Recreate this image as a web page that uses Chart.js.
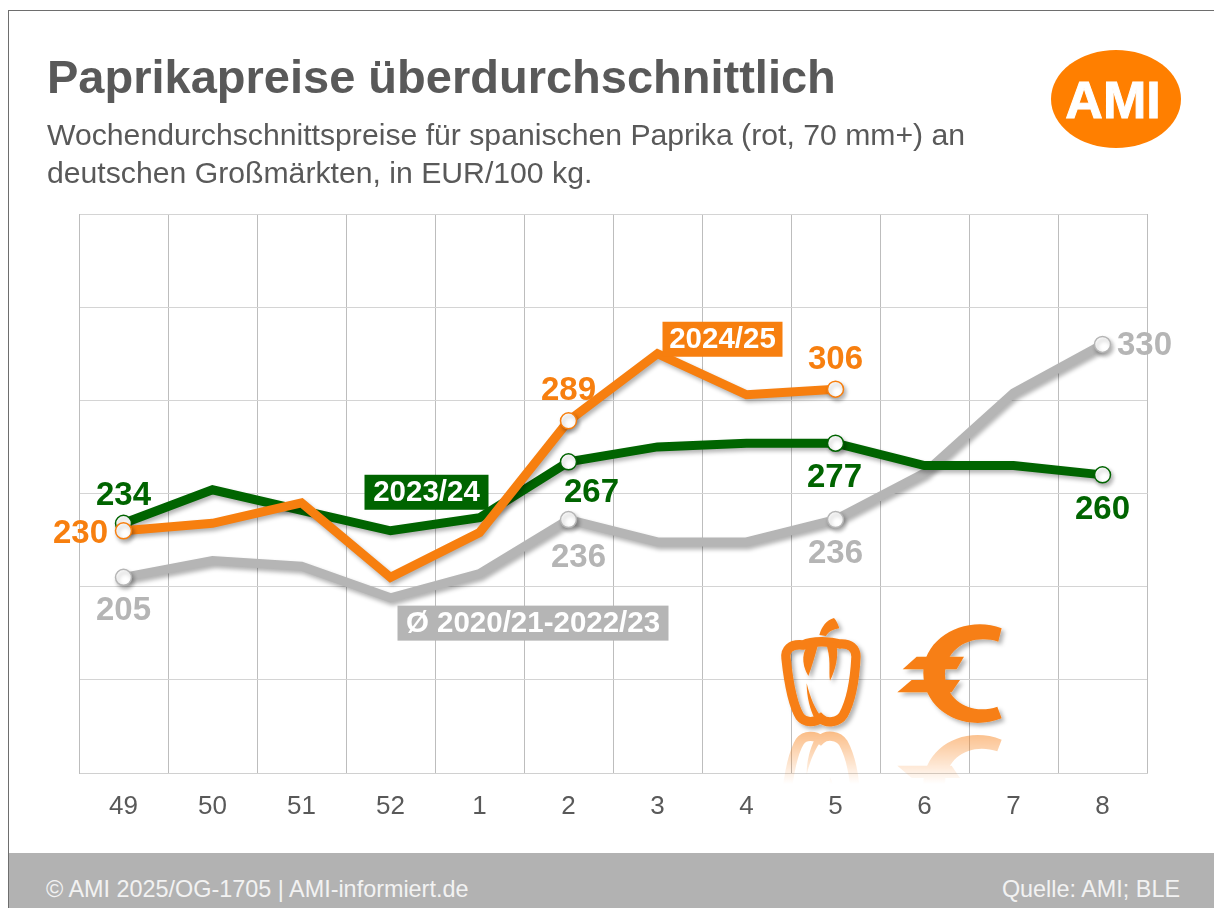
<!DOCTYPE html>
<html lang="de">
<head>
<meta charset="utf-8">
<title>Paprikapreise</title>
<script src="https://cdn.jsdelivr.net/npm/chart.js@4/dist/chart.umd.min.js"></script>
<style>
  html, body { margin: 0; padding: 0; background: #fff; }
  body { position: relative; width: 1214px; height: 908px; overflow: hidden; font-family: "Liberation Sans", Arial, sans-serif; color: #595959; }
  #profile { position: absolute; left: 0; top: 0; }
  .frame-top { position: absolute; left: 9px; right: 0; top: 10px; height: 1px; background: #6e6e6e; }
  .frame-left { position: absolute; left: 8px; top: 10px; width: 1px; bottom: 0; background: #6e6e6e; }
  h1 { position: absolute; left: 47px; top: 50px; margin: 0; font-size: 47px; line-height: 54px; font-weight: bold; white-space: nowrap; }
  .sub { position: absolute; left: 47px; top: 116px; font-size: 30.2px; line-height: 38px; white-space: nowrap; }
  .footer { position: absolute; left: 9px; right: 0; top: 853px; height: 55px; background: #b2b2b2; color: #f2f2f2; font-size: 23.4px; }
  .footer span { position: absolute; top: 23px; line-height: 26px; }
  .footer .left { left: 37px; }
  .footer .right { right: 34px; }
  svg.overlay { position: absolute; left: 0; top: 0; pointer-events: none; }
</style>
</head>
<body>
<canvas id="profile" width="1214" height="908"></canvas>
<div class="frame-top"></div>
<div class="frame-left"></div>
<h1>Paprikapreise überdurchschnittlich</h1>
<div class="sub">Wochendurchschnittspreise für spanischen Paprika (rot, 70 mm+) an<br>deutschen Großmärkten, in EUR/100 kg.</div>
<div class="footer">
  <span class="left">© AMI 2025/OG-1705 | AMI-informiert.de</span>
  <span class="right">Quelle: AMI; BLE</span>
</div>

<svg class="overlay" width="1214" height="908">
  <defs>
    <filter id="soft" x="-20%" y="-20%" width="150%" height="150%">
      <feDropShadow dx="3" dy="3" stdDeviation="2" flood-color="#000" flood-opacity="0.3"/>
    </filter>
    <linearGradient id="fade" x1="0" y1="0" x2="0" y2="1">
      <stop offset="0" stop-color="#fff" stop-opacity="0.55"/>
      <stop offset="1" stop-color="#fff" stop-opacity="0"/>
    </linearGradient>
    <mask id="fadeMask" maskUnits="userSpaceOnUse" x="760" y="728" width="270" height="60">
      <rect x="760" y="728" width="270" height="56" fill="url(#fade)"/>
    </mask>
    <g id="icons" transform="translate(760 600) scale(0.3333)">
      <path d="M130 135C90 130 75 150 78 175C85 240 95 310 120 350C135 370 165 368 182 355C200 372 235 368 250 345C275 300 285 230 288 170C288 145 270 130 240 132C215 125 160 120 130 135Z" fill="none" stroke="#f77f15" stroke-width="28"/>
      <path d="M150 130C126 150 122 190 145 228C155 200 165 170 176 125Z" fill="#f77f15"/>
      <path d="M195 125C216 170 205 215 210 242C226 210 238 170 228 128Z" fill="#f77f15"/>
      <path d="M140 250C140 290 150 330 165 358L188 356C165 330 150 290 140 250Z" fill="#f77f15"/>
      <path d="M178 105C185 80 200 60 222 54C230 62 235 75 238 85C220 88 205 95 198 108Z" fill="#f77f15"/>
      <path d="M725 85C620 45 490 110 490 220C490 330 610 400 725 355L712 320C640 345 560 310 555 225C555 140 640 100 715 125Z" fill="#f77f15"/>
      <path d="M428 208L470 170H612L590 208Z" fill="#f77f15"/>
      <path d="M412 277L455 240H600L575 277Z" fill="#f77f15"/>
    </g>
  </defs>
  <use href="#icons" filter="url(#soft)"/>
  <g mask="url(#fadeMask)">
    <use href="#icons" transform="translate(0 1458) scale(1 -1)"/>
  </g>
  <ellipse cx="1116" cy="99" rx="65" ry="49" fill="#ff7f00"/>
  <text x="1113" y="118" text-anchor="middle" font-family="Liberation Sans" font-weight="bold" font-size="52" fill="#fff" stroke="#fff" stroke-width="1">AMI</text>
</svg>

<script>
const weeks = ['49', '50', '51', '52', '1', '2', '3', '4', '5', '6', '7', '8'];
const avgPrices = [205, 214, 211, 194, 207, 236, 224, 224, 236, 261, 304, 330];
const prices2324 = [234, 252, 241, 230, 237, 267, 275, 277, 277, 265, 265, 260];
const prices2425 = [230, 234, 245, 205, 229, 289, 325, 303, 306, null, null, null];
const yTicks = [100, 150, 200, 250, 300, 350, 400];

const orange = '#f77f0f';
const green = '#006400';
const grey = '#b5b5b5';

// which points get a white marker and a value label, and where the label sits
const avgLabels = [[0, 0, 34], [5, 10, 38], [8, 0, 34], [11, 42, 1]];
const labels2324 = [[0, 0, -27], [5, 23, 31], [8, -1, 35], [11, 0, 35]];
const labels2425 = [[0, -43, 3], [5, 0, -30], [8, 0, -29]];

function marked(list) {
    return function (ctx) {
        return list.some(l => l[0] === ctx.dataIndex) ? 8 : 0;
    };
}

function series(name, data, color, list, order) {
    return {
        label: name,
        data: data,
        order: order,
        borderColor: color,
        borderWidth: 9,
        borderJoinStyle: 'miter',
        tension: 0,
        fill: false,
        pointBackgroundColor: '#fff',
        pointBorderColor: color,
        pointBorderWidth: 1.5,
        pointRadius: marked(list),
        pointHoverRadius: marked(list)
    };
}

const tags = [
    { text: 'Ø 2020/21-2022/23', dataset: 0, index: 4, dx: -82, dy: 32, w: 271, color: grey },
    { text: '2023/24', dataset: 1, index: 3, dx: -26, dy: -56, w: 124, color: green },
    { text: '2024/25', dataset: 2, index: 6, dx: 5, dy: -32, w: 120, color: orange }
];

const allLabels = [avgLabels, labels2324, labels2425];
const labelColors = [grey, green, orange];

const shadowPlugin = {
    id: 'lineShadow',
    beforeDatasetDraw(chart) {
        const ctx = chart.ctx;
        ctx.save();
        ctx.shadowColor = 'rgba(0,0,0,0.3)';
        ctx.shadowBlur = 4;
        ctx.shadowOffsetX = 2;
        ctx.shadowOffsetY = 3;
    },
    afterDatasetDraw(chart) {
        chart.ctx.restore();
    }
};

const labelPlugin = {
    id: 'priceLabels',
    afterDatasetsDraw(chart) {
        const ctx = chart.ctx;
        ctx.save();
        ctx.textAlign = 'center';
        ctx.textBaseline = 'middle';

        tags.forEach(t => {
            const pt = chart.getDatasetMeta(t.dataset).data[t.index];
            ctx.fillStyle = t.color;
            ctx.fillRect(pt.x + t.dx, pt.y + t.dy, t.w, 35);
            ctx.fillStyle = '#fff';
            ctx.font = 'bold 29.5px "Liberation Sans"';
            ctx.fillText(t.text, pt.x + t.dx + t.w / 2, pt.y + t.dy + 18);
        });

        ctx.font = 'bold 33px "Liberation Sans"';
        allLabels.forEach((list, i) => {
            const meta = chart.getDatasetMeta(i);
            const values = chart.data.datasets[i].data;
            list.forEach(l => {
                const pt = meta.data[l[0]];
                ctx.fillStyle = labelColors[i];
                ctx.fillText(String(values[l[0]]), pt.x + l[1], pt.y + l[2]);
            });
        });
        ctx.restore();
    }
};

new Chart(document.getElementById('profile'), {
    type: 'line',
    data: {
        labels: weeks,
        datasets: [
            series('Ø 2020/21-2022/23', avgPrices, grey, avgLabels, 2),
            series('2023/24', prices2324, green, labels2324, 1),
            series('2024/25', prices2425, orange, labels2425, 0)
        ]
    },
    options: {
        responsive: false,
        animation: false,
        layout: { padding: { top: 214, right: 67, left: 0, bottom: 0 } },
        plugins: { legend: { display: false }, tooltip: { enabled: false } },
        scales: {
            x: {
                offset: true,
                afterFit: scale => { scale.height = 135; },
                grid: { color: '#bdbdbd', lineWidth: 1, offset: true, drawTicks: false },
                border: { color: '#d0d0d0' },
                ticks: {
                    color: '#595959',
                    padding: 18,
                    maxRotation: 0,
                    font: { family: 'Liberation Sans', size: 26 }
                }
            },
            y: {
                min: yTicks[0],
                max: yTicks[yTicks.length - 1],
                afterFit: scale => { scale.width = 79; },
                afterBuildTicks: scale => { scale.ticks = yTicks.map(v => ({ value: v })); },
                grid: { color: '#d4d4d4', lineWidth: 1, drawTicks: false },
                border: { color: '#bdbdbd' },
                ticks: { display: false }
            }
        }
    },
    plugins: [shadowPlugin, labelPlugin]
});
</script>
</body>
</html>
